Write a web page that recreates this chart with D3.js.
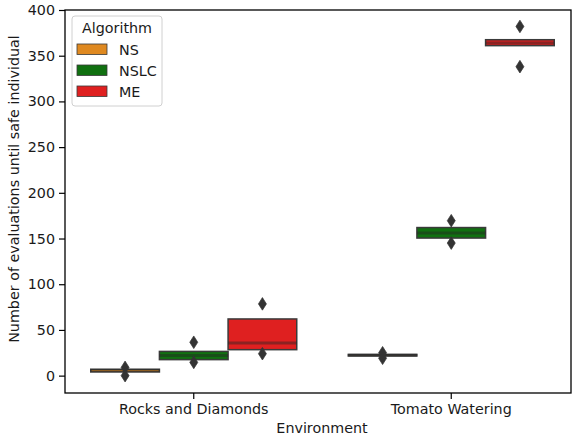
<!DOCTYPE html>
<html>
<head>
<meta charset="utf-8">
<script src="https://cdn.jsdelivr.net/npm/d3@7"></script>
<style>
  html, body { margin: 0; padding: 0; background: #fff; }
  svg { display: block; font-family: "DejaVu Sans", sans-serif; }
</style>
</head>
<body>
<svg id="chart" width="573" height="440"></svg>
<script>
// ---- data ----
const categories = ["Rocks and Diamonds", "Tomato Watering"];
const algorithms = ["NS", "NSLC", "ME"];
const colors = ["#df8920", "#107010", "#df2020"];
const yTicks = [0, 50, 100, 150, 200, 250, 300, 350, 400];

// box lower / upper / median per algorithm, one value per environment
const nsLower = [4, 21.5];
const nsUpper = [7, 23.2];
const nsMedian = [5.5, 22.3];
const nsOutliers = [[9, 0], [25, 19]];

const nslcLower = [17.5, 150.5];
const nslcUpper = [26.5, 162];
const nslcMedian = [22, 156];
const nslcOutliers = [[36.5, 14.5], [169.5, 145]];

const meLower = [28.4, 361];
const meUpper = [62, 367.5];
const meMedian = [35.7, 364];
const meOutliers = [[78.5, 24], [382, 338]];

const seriesLower = [nsLower, nslcLower, meLower];
const seriesUpper = [nsUpper, nslcUpper, meUpper];
const seriesMedian = [nsMedian, nslcMedian, meMedian];
const seriesOutliers = [nsOutliers, nslcOutliers, meOutliers];

(function draw() {
  const svg = d3.select("#chart");
  const mLeft = 65, mTop = 10, mBottom = 393, frameRight = 571;
  const fs = 14.3;

  const x = d3.scaleBand().domain(categories).range([mLeft, mLeft + 2 * 257.5]).padding(0);
  const hue = d3.scaleBand().domain(algorithms).range([0, x.bandwidth() * 0.8]).padding(0);
  const y = d3.scaleLinear().domain([-19, 400]).range([mBottom, mTop]);

  const groupX = c => x(c) + x.bandwidth() * 0.1;
  const gray = "#3a3a3a";

  algorithms.forEach((alg, ai) => {
    categories.forEach((cat, ci) => {
      const x0 = groupX(cat) + hue(alg);
      const w = hue.bandwidth();
      const lo = seriesLower[ai][ci], hi = seriesUpper[ai][ci], med = seriesMedian[ai][ci];
      svg.append("rect")
        .attr("x", x0).attr("y", y(hi))
        .attr("width", w).attr("height", y(lo) - y(hi))
        .attr("fill", colors[ai])
        .attr("stroke", gray).attr("stroke-width", 1.5);
      svg.append("line")
        .attr("x1", x0).attr("x2", x0 + w)
        .attr("y1", y(med)).attr("y2", y(med))
        .attr("stroke", "#262626").attr("stroke-opacity", 0.45)
        .attr("stroke-width", 3);
      const cx = x0 + w / 2;
      seriesOutliers[ai][ci].forEach(v => {
        const cy = y(v);
        svg.append("path")
          .attr("d", `M${cx},${cy - 6.3}L${cx + 4},${cy}L${cx},${cy + 6.3}L${cx - 4},${cy}Z`)
          .attr("fill", "#333").attr("stroke", "#333").attr("stroke-width", 0.7);
      });
    });
  });

  svg.append("rect")
    .attr("x", mLeft).attr("y", mTop)
    .attr("width", frameRight - mLeft).attr("height", mBottom - mTop)
    .attr("fill", "none").attr("stroke", "#000").attr("stroke-width", 1.3);

  const yAxis = svg.append("g").attr("transform", `translate(${mLeft},0)`)
    .call(d3.axisLeft(y).tickValues(yTicks).tickSize(6).tickPadding(4));
  yAxis.select(".domain").remove();
  yAxis.selectAll("line").attr("stroke", "#000").attr("stroke-width", 1.2);
  yAxis.selectAll("text").attr("font-size", fs).attr("fill", "#1a1a1a")
    .attr("font-family", "DejaVu Sans");

  const xAxis = svg.append("g").attr("transform", `translate(0,${mBottom})`)
    .call(d3.axisBottom(x).tickSize(6).tickPadding(5));
  xAxis.select(".domain").remove();
  xAxis.selectAll("line").attr("stroke", "#000").attr("stroke-width", 1.2);
  xAxis.selectAll("text").attr("font-size", fs).attr("fill", "#1a1a1a")
    .attr("font-family", "DejaVu Sans");

  svg.append("text").attr("x", 322).attr("y", 433)
    .attr("text-anchor", "middle").attr("font-size", fs).attr("fill", "#1a1a1a")
    .text("Environment");
  svg.append("text").attr("transform", "translate(19,189) rotate(-90)")
    .attr("text-anchor", "middle").attr("font-size", fs).attr("fill", "#1a1a1a")
    .text("Number of evaluations until safe individual");

  const lg = svg.append("g");
  lg.append("rect").attr("x", 72).attr("y", 16).attr("width", 90).attr("height", 90)
    .attr("rx", 3).attr("fill", "#fff").attr("fill-opacity", 0.8)
    .attr("stroke", "#d0d0d0").attr("stroke-width", 1);
  lg.append("text").attr("x", 117).attr("y", 33).attr("text-anchor", "middle")
    .attr("font-size", fs).attr("fill", "#1a1a1a").text("Algorithm");
  algorithms.forEach((alg, i) => {
    const yy = 44 + i * 21;
    lg.append("rect").attr("x", 77).attr("y", yy).attr("width", 30).attr("height", 10.5)
      .attr("fill", colors[i]).attr("stroke", gray).attr("stroke-width", 0.8);
    lg.append("text").attr("x", 119).attr("y", yy + 10.5)
      .attr("font-size", fs).attr("fill", "#1a1a1a").text(alg);
  });
})();
</script>
</body>
</html>
